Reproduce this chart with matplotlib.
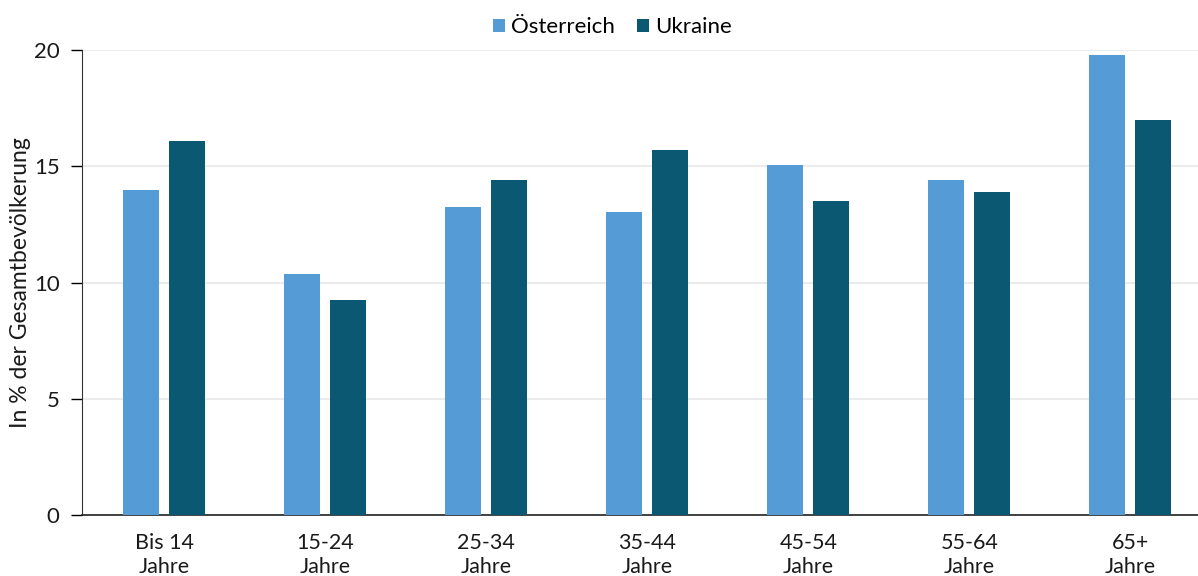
import numpy as np
import matplotlib
matplotlib.use("Agg")
import matplotlib.pyplot as plt

plt.rcParams['font.family'] = ['Lato', 'DejaVu Sans']

categories = ["Bis 14\nJahre", "15-24\nJahre", "25-34\nJahre", "35-44\nJahre",
              "45-54\nJahre", "55-64\nJahre", "65+\nJahre"]
oesterreich = [14.0, 10.35, 13.25, 13.05, 15.05, 14.4, 19.8]
ukraine = [16.1, 9.25, 14.4, 15.7, 13.5, 13.9, 17.0]

c_at = "#559bd6"
c_ua = "#0b5872"

fig = plt.figure(figsize=(11.98, 5.76), dpi=100)
ax = fig.add_axes([0.0684, 0.106, 0.9316, 0.807])

x = np.arange(len(categories))
w = 0.224
off = 0.143
ax.bar(x - off, oesterreich, w, color=c_at, label="Österreich", zorder=3)
ax.bar(x + off, ukraine, w, color=c_ua, label="Ukraine", zorder=3)

ax.set_xlim(-0.51, 6.42)
ax.set_ylim(0, 20)
ax.set_yticks([0, 5, 10, 15, 20])
ax.set_xticks(x)
ax.set_xticklabels(categories, fontsize=15.5, color="#1a1a1a", linespacing=1.22)
ax.tick_params(axis='x', length=0, pad=13)
ax.tick_params(axis='y', length=8, width=1, labelsize=16, labelcolor="#1a1a1a", pad=8)
ax.yaxis.grid(True, color="#ebebeb", linewidth=1.5, zorder=0)
for s in ["top", "right"]:
    ax.spines[s].set_visible(False)
ax.spines["left"].set_color("#333333")
ax.spines["bottom"].set_color("#222222")
ax.spines["bottom"].set_linewidth(1.2)

ax.set_ylabel("In % der Gesamtbevölkerung", fontsize=16.5, color="#1a1a1a")
ax.yaxis.set_label_coords(-0.046, 0.5)

fig.legend(loc="center", bbox_to_anchor=(0.511, 0.953), ncol=2, frameon=False,
           fontsize=16, handlelength=0.55, handleheight=0.55, handletextpad=0.25,
           columnspacing=1.0)

fig.savefig("out.png", dpi=100)
